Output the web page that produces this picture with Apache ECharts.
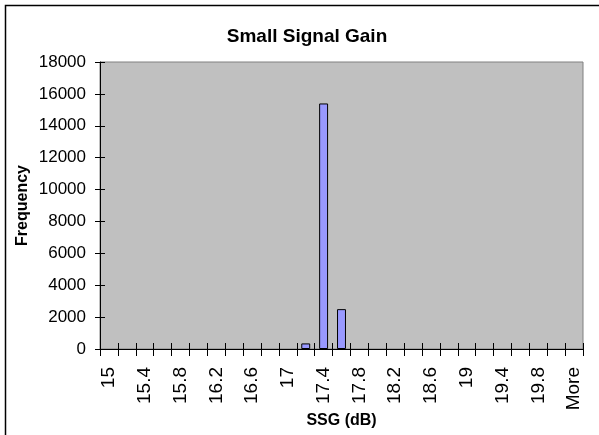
<!DOCTYPE html>
<html>
<head>
<meta charset="utf-8">
<script src="https://cdn.jsdelivr.net/npm/echarts@6/dist/echarts.min.js"></script>
<style>
html,body{margin:0;padding:0;background:#fff;}
#c{width:599px;height:435px;}
</style>
</head>
<body>
<div id="c"></div>
<script>
var categories = ['15','15.2','15.4','15.6','15.8','16','16.2','16.4','16.6','16.8','17','17.2','17.4','17.6','17.8','18','18.2','18.4','18.6','18.8','19','19.2','19.4','19.6','19.8','20','More'];
var frequency = [0,0,0,0,0,0,0,0,0,0,0,350,15400,2500,0,0,0,0,0,0,0,0,0,0,0,0,0];
var yTicks = {min:0, max:18000, interval:2000};
var FONT = '"Liberation Sans", Arial, sans-serif';

var barData = frequency.map(function(v){
  return v === 0 ? {value:v, itemStyle:{borderWidth:0}} : {value:v};
});

var chart = echarts.init(document.getElementById('c'));
chart.setOption({
  animation:false,
  backgroundColor:'#ffffff',
  title:{text:'Small Signal Gain', left:302, top:22, textAlign:'center',
    textStyle:{fontFamily:FONT, fontSize:19, fontWeight:'bold', color:'#000'}},
  graphic:[{type:'rect', shape:{x:5.5, y:5.5, width:620, height:460},
    style:{fill:'none', stroke:'#000', lineWidth:1.5}, silent:true}],
  grid:{left:100, right:16, top:62, bottom:86, show:true, outerBoundsMode:'none', containLabel:false,
    backgroundColor:'#C0C0C0', borderColor:'#808080', borderWidth:1},
  xAxis:[{
    type:'category', data:categories, position:'bottom',
    name:'SSG (dB)', nameLocation:'middle', nameGap:64, nameMoveOverlap:false,
    nameTextStyle:{fontFamily:FONT, fontSize:16, fontWeight:'bold', color:'#000', verticalAlign:'top'},
    axisLine:{lineStyle:{color:'#000', width:1}},
    axisTick:{show:true, alignWithLabel:false, interval:0, length:7, lineStyle:{color:'#000'}},
    axisLabel:{interval:1, rotate:90, margin:18, fontFamily:FONT, fontSize:19, color:'#000'},
    splitLine:{show:false}
  },{
    type:'category', data:categories, position:'bottom',
    axisLine:{show:false},
    axisTick:{show:true, inside:true, interval:0, length:6, lineStyle:{color:'#000'}},
    axisLabel:{show:false}, splitLine:{show:false}
  }],
  yAxis:[{
    type:'value', min:yTicks.min, max:yTicks.max, interval:yTicks.interval,
    name:'Frequency', nameLocation:'middle', nameGap:69, nameRotate:90, nameMoveOverlap:false,
    nameTextStyle:{fontFamily:FONT, fontSize:16, fontWeight:'bold', color:'#000', verticalAlign:'bottom'},
    axisLine:{show:true, lineStyle:{color:'#000', width:1}},
    axisTick:{show:true, length:5, lineStyle:{color:'#000'}},
    axisLabel:{margin:14, fontFamily:FONT, fontSize:17, color:'#000',
      formatter:function(v){return String(v);}},
    splitLine:{show:false}
  },{
    type:'value', min:yTicks.min, max:yTicks.max, interval:yTicks.interval, position:'left',
    axisLine:{show:false},
    axisTick:{show:true, inside:true, length:5, lineStyle:{color:'#000'}},
    axisLabel:{show:false}, splitLine:{show:false}
  }],
  series:[{
    type:'bar', data:barData, xAxisIndex:0, yAxisIndex:0,
    barCategoryGap:'50%',
    itemStyle:{color:'#9999FF', borderColor:'#000', borderWidth:1}
  }]
});
</script>
</body>
</html>
